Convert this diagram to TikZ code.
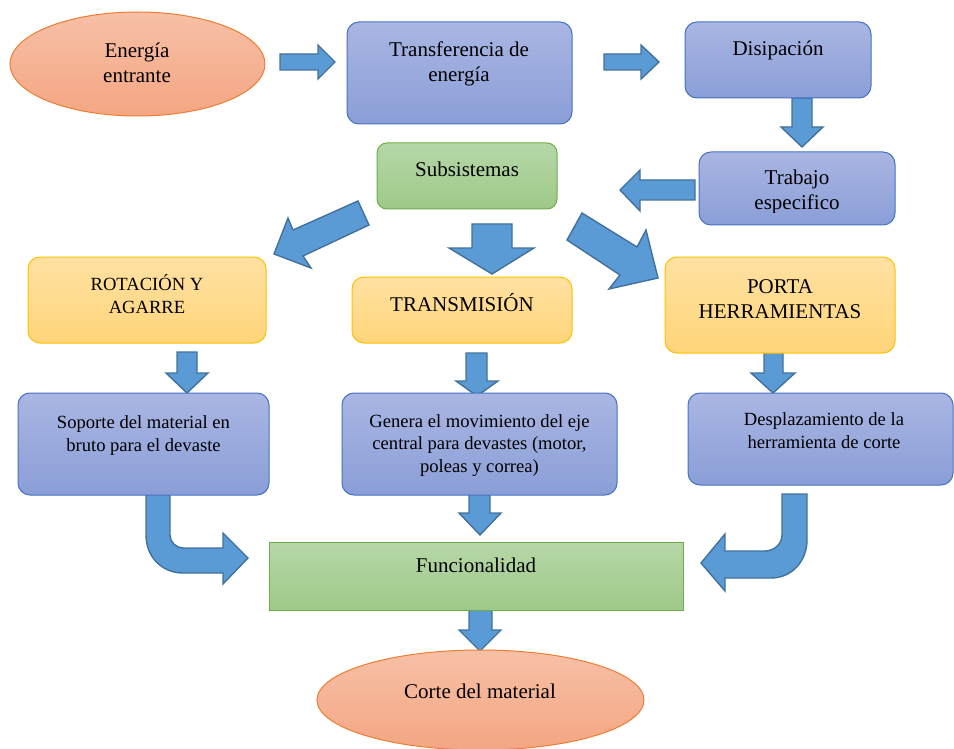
\documentclass[tikz,border=0pt]{standalone}
\usepackage{fontspec}
\setmainfont{Liberation Serif}
\usetikzlibrary{shapes.geometric}
\definecolor{bluetop}{RGB}{170,182,227}
\definecolor{bluebot}{RGB}{138,158,215}
\definecolor{blueline}{RGB}{68,114,196}
\definecolor{greentop}{RGB}{182,215,168}
\definecolor{greenbot}{RGB}{158,201,136}
\definecolor{greenline}{RGB}{112,173,71}
\definecolor{yellowtop}{RGB}{255,225,162}
\definecolor{yellowbot}{RGB}{255,213,122}
\definecolor{yellowline}{RGB}{255,192,0}
\definecolor{salmontop}{RGB}{247,192,166}
\definecolor{salmonbot}{RGB}{244,166,131}
\definecolor{salmonline}{RGB}{237,125,49}
\definecolor{arrowfill}{RGB}{91,155,213}
\definecolor{arrowline}{RGB}{65,113,156}
\tikzset{
  x=1pt, y=1pt,
  boxbase/.style={anchor=north west, inner sep=0pt, outer sep=0pt, line width=1pt},
  bluebox/.style={boxbase, rounded corners=12pt, draw=blueline, top color=bluetop, bottom color=bluebot},
  greenbox/.style={boxbase, rounded corners=10pt, draw=greenline, top color=greentop, bottom color=greenbot},
  sharpgreen/.style={boxbase, draw=greenline, top color=greentop, bottom color=greenbot},
  yellowbox/.style={boxbase, rounded corners=12pt, draw=yellowline, top color=yellowtop, bottom color=yellowbot},
  salmonell/.style={ellipse, inner sep=0pt, outer sep=0pt, line width=1pt, draw=salmonline, top color=salmontop, bottom color=salmonbot},
  bigtxt/.style={anchor=base, align=center, inner sep=0pt, font=\fontsize{21}{25}\selectfont},
  smalltxt/.style={anchor=base, align=center, inner sep=0pt, font=\fontsize{18.6}{22.5}\selectfont},
  blockarrow/.style={fill=arrowfill, draw=arrowline, line width=1.4pt, line join=miter}
}
\begin{document}
\begin{tikzpicture}
\useasboundingbox (0,0) rectangle (954,-749);
% ---------- block arrows (drawn first, boxes cover their ends) ----------
\draw[blockarrow] (280,-54) -- (318,-54) -- (318,-45) -- (335,-62) -- (318,-79) -- (318,-70) -- (280,-70) -- cycle;
\draw[blockarrow] (604,-54) -- (641,-54) -- (641,-45) -- (659,-62) -- (641,-79) -- (641,-70) -- (604,-70) -- cycle;
\draw[blockarrow] (792,-98) -- (812,-98) -- (812,-127) -- (823,-127) -- (802,-147) -- (781,-127) -- (792,-127) -- cycle;
\draw[blockarrow] (695,-180) -- (640,-180) -- (640,-170) -- (620,-190) -- (640,-211) -- (640,-200) -- (695,-200) -- cycle;
\draw[blockarrow] (358,-201) -- (293,-230) -- (288,-218) -- (274,-254) -- (311,-268) -- (303,-256) -- (369,-225) -- cycle;
\draw[blockarrow] (472,-224) -- (512,-224) -- (512,-248) -- (534,-248) -- (492,-274) -- (449,-248) -- (472,-248) -- cycle;
\draw[blockarrow] (582,-213) -- (637,-247) -- (646,-230) -- (658,-278) -- (609,-289) -- (620,-275) -- (567,-240) -- cycle;
\draw[blockarrow] (177,-352) -- (197,-352) -- (197,-373) -- (208,-373) -- (187,-393) -- (166,-373) -- (177,-373) -- cycle;
\draw[blockarrow] (466,-353) -- (487,-353) -- (487,-381) -- (498,-381) -- (477,-396) -- (456,-381) -- (466,-381) -- cycle;
\draw[blockarrow] (764,-352) -- (783,-352) -- (783,-373) -- (795,-373) -- (773,-393) -- (751,-373) -- (764,-373) -- cycle;
\draw[blockarrow] (146,-494) -- (146,-535) .. controls (146,-557) and (162,-573) .. (183,-573) -- (223,-573) -- (223,-584) -- (248,-558) -- (223,-533) -- (223,-548) -- (183,-548) .. controls (176,-548) and (170,-542) .. (170,-535) -- (170,-494) -- cycle;
\draw[blockarrow] (469,-493) -- (490,-493) -- (490,-513) -- (501,-513) -- (480,-535) -- (459,-513) -- (469,-513) -- cycle;
\draw[blockarrow] (807,-494) -- (807,-540) .. controls (807,-561) and (792,-578) .. (771,-578) -- (725,-578) -- (725,-591) -- (701,-563) -- (725,-534) -- (725,-551) -- (765,-551) .. controls (774,-551) and (782,-544) .. (782,-535) -- (782,-494) -- cycle;
\draw[blockarrow] (469,-610) -- (492,-610) -- (492,-630) -- (501,-630) -- (480,-651) -- (459,-630) -- (469,-630) -- cycle;
% ---------- shapes ----------
\node[salmonell, minimum width=255pt, minimum height=104pt] (ener) at (137.5,-64) {};
\node[bluebox, minimum width=225pt, minimum height=102pt] (trans) at (347,-22) {};
\node[bluebox, minimum width=186pt, minimum height=76pt] (disip) at (685,-22) {};
\node[bluebox, minimum width=196pt, minimum height=73pt] (trab) at (699,-152) {};
\node[greenbox, minimum width=180pt, minimum height=66pt] (subs) at (377,-143) {};
\node[yellowbox, minimum width=238pt, minimum height=86pt] (rot) at (28,-257) {};
\node[yellowbox, minimum width=220pt, minimum height=66pt] (tmis) at (352,-277) {};
\node[yellowbox, minimum width=230pt, minimum height=96pt] (porta) at (665,-257) {};
\node[bluebox, minimum width=251pt, minimum height=102pt] (sop) at (18,-393) {};
\node[bluebox, minimum width=275pt, minimum height=102pt] (gen) at (342,-393) {};
\node[bluebox, minimum width=265pt, minimum height=92pt] (desp) at (688,-393) {};
\node[sharpgreen, minimum width=414pt, minimum height=68pt] (func) at (269,-542) {};
\node[salmonell, minimum width=327pt, minimum height=100pt] (corte) at (480.5,-700) {};
% ---------- texts (anchor = baseline of the last line) ----------
\node[bigtxt] (tener) at (137,-83) {Energía\\entrante};
\node[bigtxt] (ttrans) at (459,-82) {Transferencia de\\energía};
\node[bigtxt] (tdisip) at (778,-56) {Disipación};
\begin{scope}
\clip (699,-152) rectangle (895,-213);
\node[bigtxt] (ttrab) at (797,-210) {Trabajo\\especifico};
\end{scope}
\node[bigtxt] (tsubs) at (467,-177) {Subsistemas};
\node[smalltxt] (trot) at (147,-313) {ROTACIÓN Y\\AGARRE};
\node[bigtxt] (ttmis) at (462,-311) {TRANSMISIÓN};
\node[bigtxt] (tporta) at (780,-318) {PORTA\\HERRAMIENTAS};
\node[smalltxt] (tsop) at (143.5,-451) {Soporte del material en\\bruto para el devaste};
\node[smalltxt] (tgen) at (479.5,-472) {Genera el movimiento del eje\\central para devastes (motor,\\poleas y correa)};
\node[smalltxt] (tdesp) at (824,-448) {Desplazamiento de la\\herramienta de corte};
\node[bigtxt] (tfunc) at (476,-572) {Funcionalidad};
\node[bigtxt] (tcorte) at (480,-698) {Corte del material};
\end{tikzpicture}
\end{document}
